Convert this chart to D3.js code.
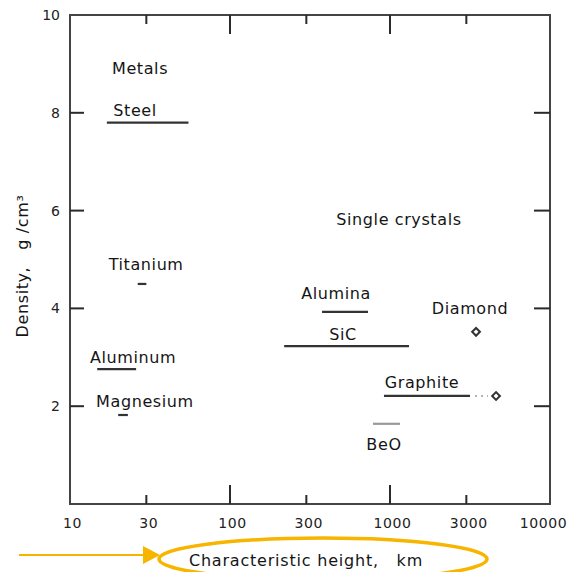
<!DOCTYPE html>
<html>
<head>
<meta charset="utf-8">
<script src="https://cdn.jsdelivr.net/npm/d3@7"></script>
<style>
  body { margin: 0; background: #fff; }
  text { font-family: "DejaVu Sans", sans-serif; fill: #151515; }
</style>
</head>
<body>
<div class="d3"></div>
<script>
'use strict';

// range bars: characteristic height span (km) at a density (g/cm3)
const materials = ['Steel', 'Titanium', 'Aluminum', 'Magnesium', 'Alumina', 'SiC', 'Graphite', 'BeO'];
const heightLow = [17, 26.5, 14.8, 20, 376, 218, 917, 783];
const heightHigh = [55, 30, 25.9, 23, 729, 1315, 3162, 1155];
const densities = [7.8, 4.5, 2.76, 1.82, 3.93, 3.23, 2.21, 1.64];
const barGray = [false, false, false, false, false, false, false, true];

// single points (open diamonds)
const pointNames = ['Diamond', 'Graphite'];
const pointHeights = [3450, 4600];
const pointDensities = [3.52, 2.21];

// dotted link graphite bar -> graphite point
const dottedFrom = [3400];
const dottedTo = [4100];
const dottedDensity = [2.21];

// annotation labels
const labelText = ['Metals', 'Steel', 'Titanium', 'Aluminum', 'Magnesium', 'Single crystals',
  'Alumina', 'SiC', 'Diamond', 'Graphite', 'BeO'];
const labelHeight = [27.4, 25.5, 29.9, 24.8, 29.4, 1138, 460, 508, 3162, 1585, 917];
const labelDensity = [8.79, 7.93, 4.79, 2.88, 1.98, 5.71, 4.19, 3.35, 3.89, 2.37, 1.10];

const xTicks = [10, 30, 100, 300, 1000, 3000, 10000];
const xMajor = [100, 1000];
const yTicks = [2, 4, 6, 8, 10];

const width = 569, height = 572;
const margin = {top: 15, right: 19, bottom: 68, left: 70};

const x = d3.scaleLog().domain([10, 10000]).range([margin.left, width - margin.right]);
const y = d3.scaleLinear().domain([0, 10]).range([height - margin.bottom, margin.top]);

const svg = d3.select('.d3').append('svg')
  .attr('width', width)
  .attr('height', height);

const ink = '#2a2a2a';

// frame
svg.append('rect')
  .attr('x', x(10)).attr('y', y(10))
  .attr('width', x(10000) - x(10)).attr('height', y(0) - y(10))
  .attr('fill', 'none').attr('stroke', '#444').attr('stroke-width', 2);

// bottom axis with labels, inner ticks
const xInner = xTicks.filter(d => d > 10 && d < 10000);
const bottom = svg.append('g')
  .attr('transform', 'translate(0,' + y(0) + ')')
  .call(d3.axisBottom(x).tickValues(xTicks).tickFormat(d3.format('d')).tickSize(0).tickPadding(14));
bottom.select('.domain').remove();
bottom.selectAll('text')
  .style('font-size', '14px').style('letter-spacing', '0.6px').style('fill', '#222')
  .attr('dx', d => d === 10000 ? -7 : 2);

svg.append('g').selectAll('line')
  .data(xInner)
  .enter()
  .append('line')
  .attr('x1', d => x(d)).attr('x2', d => x(d))
  .attr('y1', y(0)).attr('y2', d => y(0) - (xMajor.includes(d) ? 19 : 9))
  .attr('stroke', ink).attr('stroke-width', 2);

svg.append('g').selectAll('line')
  .data(xInner)
  .enter()
  .append('line')
  .attr('x1', d => x(d)).attr('x2', d => x(d))
  .attr('y1', y(10)).attr('y2', d => y(10) + (xMajor.includes(d) ? 19 : 9))
  .attr('stroke', ink).attr('stroke-width', 2);

// left axis
const left = svg.append('g')
  .attr('transform', 'translate(' + x(10) + ',0)')
  .call(d3.axisLeft(y).tickValues(yTicks).tickSize(0).tickPadding(10));
left.select('.domain').remove();
left.selectAll('text').style('font-size', '14px').style('fill', '#222');

svg.append('g').selectAll('line')
  .data(yTicks.filter(d => d < 10))
  .enter()
  .append('line')
  .attr('x1', x(10)).attr('x2', x(10) + 14)
  .attr('y1', d => y(d)).attr('y2', d => y(d))
  .attr('stroke', ink).attr('stroke-width', 2);

svg.append('g').selectAll('line')
  .data(yTicks.filter(d => d < 10))
  .enter()
  .append('line')
  .attr('x1', x(10000)).attr('x2', x(10000) - 16)
  .attr('y1', d => y(d)).attr('y2', d => y(d))
  .attr('stroke', ink).attr('stroke-width', 2);

// axis titles
svg.append('text')
  .attr('transform', 'translate(28,' + 266 + ') rotate(-90)')
  .attr('text-anchor', 'middle')
  .attr('xml:space', 'preserve')
  .style('font-size', '16px')
  .style('letter-spacing', '0.6px')
  .text('Density,   g /cm³');

svg.append('text')
  .attr('x', 306).attr('y', 566)
  .attr('text-anchor', 'middle')
  .attr('xml:space', 'preserve')
  .style('font-size', '16px')
  .style('letter-spacing', '0.8px')
  .text('Characteristic height,   km');

// range bars
svg.append('g').selectAll('line')
  .data(materials)
  .enter()
  .append('line')
  .attr('x1', (d, i) => x(heightLow[i]))
  .attr('x2', (d, i) => x(heightHigh[i]))
  .attr('y1', (d, i) => y(densities[i]))
  .attr('y2', (d, i) => y(densities[i]))
  .attr('stroke', (d, i) => barGray[i] ? '#999' : '#333')
  .attr('stroke-width', 2.2);

svg.append('g').selectAll('line')
  .data(dottedFrom)
  .enter()
  .append('line')
  .attr('x1', (d) => x(d))
  .attr('x2', (d, i) => x(dottedTo[i]))
  .attr('y1', (d, i) => y(dottedDensity[i]))
  .attr('y2', (d, i) => y(dottedDensity[i]))
  .attr('stroke', '#999').attr('stroke-width', 1.5)
  .attr('stroke-dasharray', '2,4');

// diamonds
svg.append('g').selectAll('path')
  .data(pointNames)
  .enter()
  .append('path')
  .attr('transform', (d, i) => 'translate(' + x(pointHeights[i]) + ',' + y(pointDensities[i]) + ') rotate(45)')
  .attr('d', d3.symbol(d3.symbolSquare, 30))
  .attr('fill', 'none').attr('stroke', '#333').attr('stroke-width', 2);

// labels
svg.append('g').selectAll('text')
  .data(labelText)
  .enter()
  .append('text')
  .attr('x', (d, i) => x(labelHeight[i]))
  .attr('y', (d, i) => y(labelDensity[i]))
  .attr('text-anchor', 'middle')
  .style('font-size', '16px')
  .style('letter-spacing', '0.6px')
  .text(d => d);

// highlight: arrow and ellipse round x title
const orange = '#f7b500';
svg.append('line')
  .attr('x1', 19).attr('x2', 145).attr('y1', 555).attr('y2', 555)
  .attr('stroke', orange).attr('stroke-width', 2);
svg.append('path')
  .attr('d', 'M143,546 L160,555 L143,564 Z')
  .attr('fill', orange);
svg.append('ellipse')
  .attr('cx', 323).attr('cy', 559).attr('rx', 164).attr('ry', 21)
  .attr('fill', 'none').attr('stroke', orange).attr('stroke-width', 3.5);
</script>
</body>
</html>
